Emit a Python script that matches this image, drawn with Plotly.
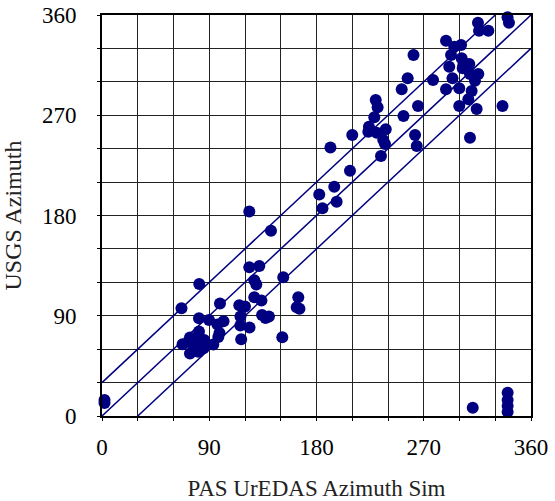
import plotly.graph_objects as go

# PAS UrEDAS azimuth (x) vs USGS azimuth (y), degrees
pas_azimuth = [
    340.3, 341.5, 315.5, 316.4, 324.2, 288.7, 295.6, 301.3, 292.9, 261.4,
    301.8, 291.4, 303.2, 308.2, 302.7, 308.8, 315.8, 313.0, 294.1, 277.8,
    256.5, 251.5, 288.7, 299.8, 310.2, 307.4, 299.8, 314.4, 336.1, 265.2,
    229.7, 231.3, 228.5, 253.0, 210.0, 224.0, 223.5, 230.5, 238.1, 236.0,
    237.5, 262.7, 264.1, 234.1, 308.8, 191.7, 208.1, 194.9, 182.3, 185.0,
    196.9,
    123.6, 141.8, 123.6, 132.0, 127.8, 129.5, 152.1, 81.6, 66.7, 99.0,
    115.2, 120.0, 127.8, 133.8, 134.3, 137.2, 140.1, 164.7, 163.4, 165.7,
    151.3, 116.2, 116.1, 123.8, 116.8, 81.4, 89.8, 96.9, 102.0, 98.6,
    97.6, 93.4, 81.4, 79.3, 73.8, 72.4, 67.6, 76.8, 83.7, 85.8,
    85.2, 73.8, 80.8,
    2.1, 2.1, 311.1, 340.4, 340.4, 340.4, 340.4,
]
usgs_azimuth = [
    357.9, 353.1, 353.1, 345.9, 345.9, 336.9, 331.5, 333.1, 324.1, 324.1,
    321.1, 313.6, 315.1, 316.0, 312.2, 307.0, 307.0, 301.0, 303.2, 301.6,
    303.2, 293.3, 293.3, 294.2, 291.8, 284.3, 278.3, 275.6, 278.3, 278.3,
    283.7, 277.1, 268.2, 269.3, 252.3, 259.7, 255.2, 254.3, 257.4, 247.8,
    244.2, 252.3, 242.4, 233.4, 249.8, 241.0, 220.2, 205.9, 198.9, 186.5,
    192.4,
    183.6, 166.4, 133.5, 134.7, 121.8, 118.1, 124.5, 118.5, 96.7, 101.0,
    99.4, 98.3, 106.6, 103.7, 90.7, 88.0, 89.3, 106.6, 97.6, 96.3,
    70.7, 89.3, 81.2, 79.5, 68.9, 87.7, 86.2, 82.1, 85.0, 74.5,
    70.9, 64.2, 75.9, 69.8, 70.5, 66.7, 64.4, 63.7, 65.3, 68.2,
    60.8, 56.1, 57.7,
    14.4, 11.7, 7.5, 20.9, 14.4, 9.0, 3.6,
]

# reference lines y = x + offset
line_offsets = [-30, 0, 30]
axis_min, axis_max = 0, 360
tick_values = [0, 90, 180, 270, 360]

NAVY = "#000080"
FONT = "Liberation Serif"

fig = go.Figure()

for d in line_offsets:
    x0 = max(axis_min, axis_min - d)
    x1 = min(axis_max, axis_max - d)
    fig.add_trace(go.Scatter(
        x=[x0, x1], y=[x0 + d, x1 + d], mode="lines",
        line=dict(color=NAVY, width=1.5), showlegend=False, hoverinfo="skip",
    ))

fig.add_trace(go.Scatter(
    x=pas_azimuth, y=usgs_azimuth, mode="markers",
    marker=dict(color=NAVY, size=12, line=dict(width=0)),
    cliponaxis=False, showlegend=False,
))

axis_common = dict(
    range=[axis_min, axis_max],
    tickvals=tick_values,
    ticktext=[str(v) for v in tick_values],
    showgrid=True, gridcolor="#222222", gridwidth=1,
    minor=dict(dtick=30, showgrid=True, gridcolor="#222222", gridwidth=1,
               ticks="outside", ticklen=3, tickcolor="black"),
    ticks="outside", ticklen=3, tickcolor="black",
    showline=True, linecolor="black", linewidth=2, mirror=True,
    zeroline=False, automargin=False,
    tickfont=dict(family=FONT, size=23, color="black"),
)

fig.update_xaxes(**axis_common, ticklabelstandoff=6,
                 title=dict(text="PAS UrEDAS Azimuth Sim",
                            font=dict(family=FONT, size=23, color="#222222"),
                            standoff=22))
fig.update_yaxes(**axis_common, ticklabelstandoff=16,
                 title=dict(text="USGS Azimuth",
                            font=dict(family=FONT, size=24, color="#222222"),
                            standoff=14))

fig.update_layout(
    width=555, height=501,
    margin=dict(l=102, r=24, t=15, b=85),
    plot_bgcolor="white", paper_bgcolor="white",
)

fig.write_html("out.html")
